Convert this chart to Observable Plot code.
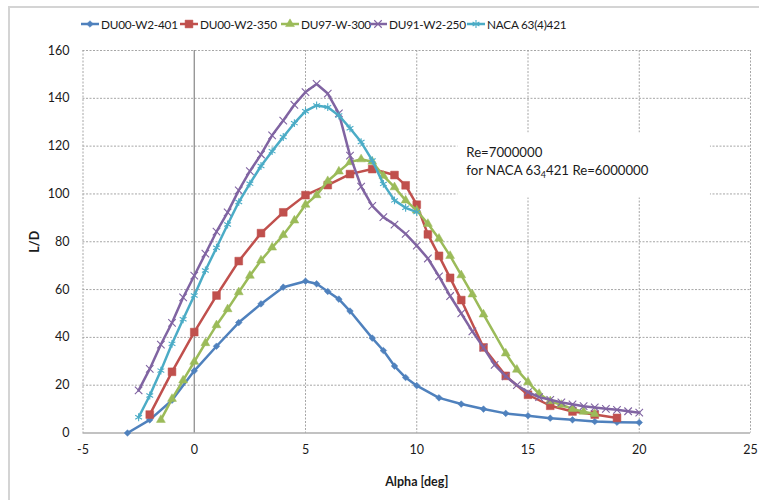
<!DOCTYPE html>
<html><head><meta charset="utf-8">
<script src="https://cdn.jsdelivr.net/npm/d3@7"></script>
<script src="https://cdn.jsdelivr.net/npm/@observablehq/plot@0.6"></script>
<style>
body{margin:0;background:#fff;font-family:Lato,sans-serif;}
#wrap{position:relative;width:759px;height:500px;overflow:hidden;background:#fff;}
#frame{position:absolute;left:8px;top:6px;width:820px;height:620px;border:2px solid #d4d4d4;box-sizing:border-box;}
#legend{position:absolute;top:14px;left:0;height:20px;width:759px;font-size:11.8px;letter-spacing:-0.25px;color:#1a1a1a;}
.item{position:absolute;top:0;display:flex;align-items:center;height:20px;white-space:nowrap;}
.item svg{margin-right:1px;}
#chart{position:absolute;top:40px;left:0;}
</style></head><body>
<div id="wrap"><div id="frame"></div><div id="legend"></div><div id="chart"></div></div>
<script>
// ---- data ----
const seriesNames = ["DU00-W2-401", "DU00-W2-350", "DU97-W-300", "DU91-W2-250", "NACA 63(4)421"];
const seriesColors = ["#4F81BD", "#C0504D", "#9BBB59", "#8064A2", "#4BACC6"];

const alpha401 = [-3,-2,-1,0,1,2,3,4,5,5.5,6,6.5,7,8,8.5,9,9.5,10,11,12,13,14,15,16,17,18,19,20];
const ld401 = [0,5.5,13.7,26,36.3,46.2,54,61,63.5,62.4,59.2,56,51,39.7,34.5,28,23.2,19.8,14.7,12.1,10,8.2,7.2,6.2,5.5,4.8,4.5,4.4];

const alpha350 = [-2,-1,0,1,2,3,4,5,6,7,8,9,9.5,10,10.5,11,11.5,12,13,14,15,16,17,18,19];
const ld350 = [7.7,25.6,42.2,57.5,71.9,83.6,92.3,99.5,103.7,108.3,110.4,107.9,103.6,95.5,83.1,74.1,64.9,55.6,35.8,23.9,16,11.4,9,7.7,6.3];

const alpha300 = [-1.5,-1,-0.5,0,0.5,1,1.5,2,2.5,3,3.5,4,4.5,5,5.5,6,6.5,7,7.5,8,8.5,9,9.5,10,10.5,11,11.5,12,12.5,13,14,14.5,15,15.5,16,16.5,17,17.5,18];
const ld300 = [5.5,14.3,22,29.8,37.6,45.1,51.8,58.9,65.8,72.2,77.6,82.8,88.9,95.5,99.5,105.4,109.4,113.3,114.5,113.5,107.6,102.8,97.3,93.1,87.5,81.3,74.1,66,58,49.6,33.3,26.5,21.3,16.4,13.3,11.8,10.1,8.9,8.0];

const alpha250 = [-2.5,-2,-1.5,-1,-0.5,0,0.5,1,1.5,2,2.5,3,3.5,4,4.5,5,5.5,6,6.5,7,7.5,8,8.5,9,9.5,10,10.5,11,11.5,12,12.5,13,13.5,14,14.5,15,15.5,16,16.5,17,17.5,18,18.5,19,19.5,20];
const ld250 = [17.8,26.8,37,46.1,56.7,65.8,75,84.2,92.3,101.5,109.5,116.5,124.5,130.7,137.3,142.6,146,142,133.7,116,103.1,95,90.3,87.2,83.3,78.4,73,65.5,57.3,50,42.5,35.7,28.5,23.7,20,17.1,15,13.9,12.8,12,11.2,10.7,10.1,9.7,9.1,8.5];

const alphaNaca = [-2.5,-2,-1.5,-1,-0.5,0,0.5,1,1.5,2,2.5,3,3.5,4,4.5,5,5.5,6,6.5,7,7.5,8,8.5,9,9.5,10];
const ldNaca = [6.6,15.7,26.1,37.3,47.6,57.5,68,77.5,87.2,96.6,104.3,111.7,117.9,123.8,129.6,134.6,137,136.3,132.8,127.5,121.7,114,104.2,97.3,94.2,92.4];

const xTicks = [-5,0,5,10,15,20,25];
const yTicks = [0,20,40,60,80,100,120,140,160];
const xTitle = "Alpha [deg]";
const yTitle = "L/D";
const noteLine1 = "Re=7000000";
const noteLine2a = "for NACA 63", noteSub = "4", noteLine2b = "421 Re=6000000";

// ---- build ----
const alphas = [alpha401, alpha350, alpha300, alpha250, alphaNaca];
const lds = [ld401, ld350, ld300, ld250, ldNaca];
const symbols = ["diamond2", "square", "triangle", "times", "asterisk"];
const symR = [3.0, 4.4, 3.3, 3.5, 3.7];
const strokeSym = [false, false, false, true, true];

const series = seriesNames.map((name, i) =>
  alphas[i].map((a, j) => ({series: name, alpha: a, ld: lds[i][j]})));

const seriesMarks = series.flatMap((rows, i) => [
  Plot.line(rows, {x: "alpha", y: "ld", stroke: seriesColors[i], strokeWidth: 2.5}),
  Plot.dot(rows, {x: "alpha", y: "ld", symbol: symbols[i], r: symR[i],
    fill: strokeSym[i] ? "none" : seriesColors[i],
    stroke: seriesColors[i], strokeWidth: strokeSym[i] ? 1.1 : 0.5})
]);

const plot = Plot.plot({
  width: 759, height: 460,
  marginTop: 10, marginBottom: 67.5, marginLeft: 82.5, marginRight: 9,
  x: {domain: [-5, 25]},
  y: {domain: [0, 160]},
  style: {fontFamily: "Lato, sans-serif", fontSize: "12.5px", color: "#1a1a1a", background: "transparent"},
  marks: [
    Plot.gridY(yTicks.filter(d => d > 0), {stroke: "#a6a6a6", strokeOpacity: 1, strokeDasharray: "2,1.5"}),
    Plot.gridX(xTicks.filter(d => d !== 0), {stroke: "#a6a6a6", strokeOpacity: 1, strokeDasharray: "2,1.5"}),
    Plot.rect([0], {x1: () => 11.85, x2: () => 23.2, y1: () => 98.3, y2: () => 125.5, fill: "white"}),
    Plot.ruleX([0], {stroke: "#868686", strokeWidth: 1.2}),
    Plot.ruleY([0], {stroke: "#868686", strokeWidth: 1.2}),
    Plot.axisX({ticks: xTicks, tickSize: 0, tickPadding: 12, label: null, tickFormat: d => String(d)}),
    Plot.axisY({ticks: yTicks, tickSize: 0, tickPadding: 13.5, label: null, tickFormat: d => String(d)}),
    Plot.text([yTitle], {frameAnchor: "left", dx: -48, rotate: -90, fontWeight: "bold", textAnchor: "middle", lineAnchor: "middle"}),
    Plot.text([xTitle], {frameAnchor: "bottom", dy: 48.5, fontWeight: "bold", textAnchor: "middle", lineAnchor: "middle"}),
    ...seriesMarks
  ]
});
document.getElementById("chart").appendChild(plot);

// annotation with subscript
const xs = plot.scale("x"), ys = plot.scale("y");
const svg = d3.select(plot);
const note = svg.append("text")
  .attr("font-family", "Lato, sans-serif").attr("font-size", 13.2)
  .attr("text-anchor", "start").attr("fill", "#1a1a1a");
note.append("tspan").attr("x", xs.apply(12.25)).attr("y", ys.apply(115.3)).text(noteLine1);
const l2 = note.append("tspan").attr("x", xs.apply(12.25)).attr("y", ys.apply(107.8));
l2.text(noteLine2a);
note.append("tspan").attr("font-size", 9).attr("dy", 3).text(noteSub);
note.append("tspan").attr("dy", -3).text(noteLine2b);

// legend
const legendX = [80, 179, 280, 368, 466];
const leg = d3.select("#legend");
const symMap = {diamond2: d3.symbolDiamond2, square: d3.symbolSquare, triangle: d3.symbolTriangle, times: d3.symbolTimes, asterisk: d3.symbolAsterisk};
seriesNames.forEach((name, i) => {
  const it = leg.append("div").attr("class", "item").style("left", legendX[i] + "px");
  const s = it.append("svg").attr("width", 20).attr("height", 20);
  s.append("line").attr("x1", 1).attr("x2", 19).attr("y1", 10).attr("y2", 10)
    .attr("stroke", seriesColors[i]).attr("stroke-width", 2.5);
  s.append("path").attr("transform", "translate(10,10)")
    .attr("d", d3.symbol(symMap[symbols[i]], Math.PI * symR[i] * symR[i])())
    .attr("fill", strokeSym[i] ? "none" : seriesColors[i])
    .attr("stroke", seriesColors[i]).attr("stroke-width", strokeSym[i] ? 1.1 : 0.5);
  it.append("span").text(name);
});
</script>
</body></html>
